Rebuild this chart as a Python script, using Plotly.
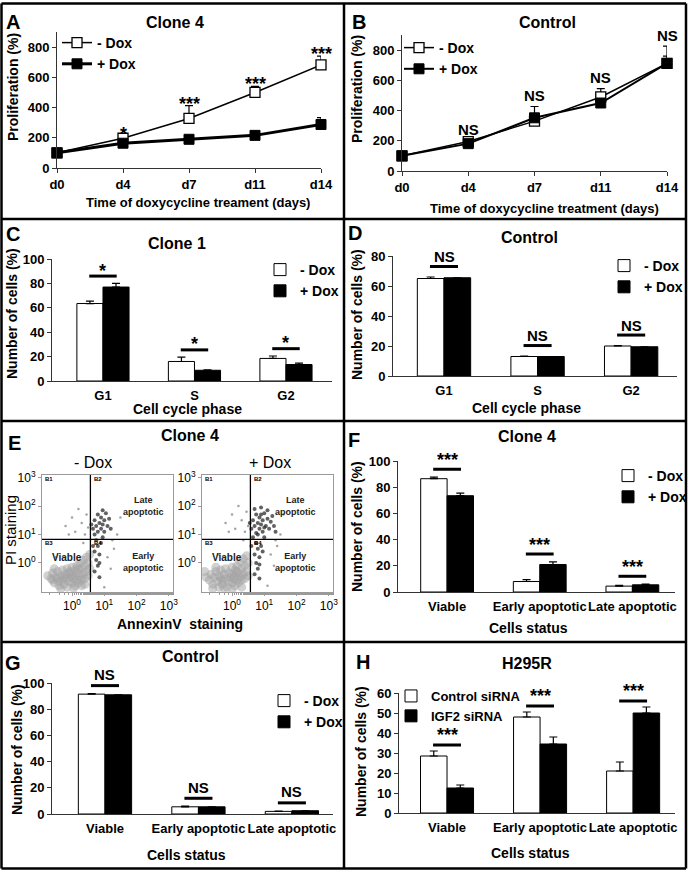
import plotly.graph_objects as go

W, H = 688, 872
FONT = "Liberation Sans, Arial, sans-serif"

# ---------------- data ----------------
days = ["d0", "d4", "d7", "d11", "d14"]
a_minus = [100, 197, 328, 500, 682]
a_minus_err = [0, 12, 85, 40, 59]
a_plus = [100, 164, 190, 216, 288]
a_plus_err = [0, 8, 15, 10, 46]
a_sig = ["", "*", "***", "***", "***"]

b_minus = [100, 195, 330, 490, 712]
b_minus_err = [0, 8, 20, 55, 115]
b_plus = [100, 181, 352, 450, 712]
b_plus_err = [0, 6, 75, 12, 48]
b_sig = ["", "NS", "NS", "NS", "NS"]

phases = ["G1", "S", "G2"]
c_minus = [63.5, 16, 18.5]
c_minus_err = [2, 3.5, 2]
c_plus = [77, 8.8, 13.5]
c_plus_err = [3, 0.4, 1.2]
c_sig = ["*", "*", "*"]

d_minus = [65, 13, 20]
d_minus_err = [1, 0.3, 0.3]
d_plus = [65.5, 13, 19.5]
d_plus_err = [0, 0, 0]
d_sig = ["NS", "NS", "NS"]

status = ["Viable", "Early apoptotic", "Late apoptotic"]
f_minus = [86.5, 8, 4.5]
f_minus_err = [1.2, 1.5, 0.5]
f_plus = [73.5, 21, 5.5]
f_plus_err = [2, 2, 0.5]
f_sig = ["***", "***", "***"]

g_minus = [91.5, 5.5, 2]
g_minus_err = [0.5, 0.5, 0.3]
g_plus = [91, 5.5, 2.5]
g_plus_err = [0, 0, 0]
g_sig = ["NS", "NS", "NS"]

h_ctrl = [28.5, 48, 21]
h_ctrl_err = [2.5, 2.5, 4.5]
h_igf = [12.5, 34.5, 50]
h_igf_err = [1.5, 3.5, 3]
h_sig = ["***", "***", "***"]

# flow cytometry (log10 AnnexinV, log10 PI), estimated from the dot plots
e_neg_viable = [(-0.75, -0.45), (-0.65, -0.55), (-0.6, -0.35), (-0.55, -0.7), (-0.5, -0.5),
                (-0.45, -0.3), (-0.4, -0.65), (-0.4, -0.8), (-0.35, -0.45), (-0.3, -0.25),
                (-0.3, -0.6), (-0.25, -0.75), (-0.2, -0.4), (-0.2, -0.55), (-0.15, -0.2),
                (-0.15, -0.85), (-0.1, -0.65), (-0.1, -0.35), (-0.05, -0.5), (0.0, -0.15),
                (0.0, -0.7), (0.0, -0.4), (0.05, -0.55), (0.1, -0.25), (0.1, -0.8),
                (0.1, -0.45), (0.15, -0.6), (0.15, -0.1), (0.2, -0.35), (0.2, -0.7),
                (0.25, -0.5), (0.25, 0.0), (0.3, -0.2), (0.3, -0.6), (0.35, -0.4),
                (0.35, 0.1), (0.4, -0.1), (0.4, -0.55), (0.45, -0.3), (0.45, 0.2),
                (0.5, 0.0), (0.5, -0.45), (0.55, -0.2), (0.55, 0.3), (-0.55, -0.2),
                (-0.35, -0.9), (0.05, -0.88), (0.3, -0.8), (-0.6, -0.6), (-0.45, -0.55),
                (-0.25, -0.5), (-0.05, -0.3), (0.2, -0.2), (0.4, -0.75)]
e_neg_dark = [(0.65, 1.2), (0.7, 1.5), (0.75, 1.3), (0.8, 1.1), (0.8, 1.7), (0.85, 1.4),
              (0.9, 1.2), (0.9, 1.6), (0.95, 1.35), (1.0, 1.5), (1.0, 1.1), (1.05, 1.75),
              (1.1, 1.3), (1.15, 1.55), (0.7, 1.0), (0.75, 0.8), (0.8, 0.6), (0.7, 0.4),
              (0.85, 0.3), (0.75, 0.1), (0.9, 0.7), (0.8, -0.1), (0.7, -0.3), (0.85, -0.5),
              (0.65, 0.6), (0.95, 0.9), (0.6, 1.35), (1.2, 1.2), (0.95, 1.85), (0.85, 0.0)]
e_neg_sparse = [(-0.2, 1.3), (0.0, 1.6), (0.1, 1.1), (0.3, 1.4), (0.4, 1.0), (0.45, 1.7),
                (0.2, 1.9), (-0.1, 1.0), (0.35, 0.7), (0.5, 1.25), (1.3, 0.5), (1.4, 1.0),
                (1.2, -0.2), (1.1, 0.2), (1.5, 1.6), (1.25, 0.8), (-0.5, 0.2), (1.0, -0.85)]

e_pos_viable = [(-0.8, -0.5), (-0.7, -0.6), (-0.65, -0.4), (-0.6, -0.75), (-0.55, -0.5),
                (-0.5, -0.3), (-0.45, -0.65), (-0.4, -0.85), (-0.4, -0.45), (-0.35, -0.25),
                (-0.3, -0.6), (-0.3, -0.75), (-0.25, -0.4), (-0.2, -0.55), (-0.2, -0.2),
                (-0.15, -0.85), (-0.1, -0.65), (-0.1, -0.35), (-0.05, -0.5), (0.0, -0.15),
                (0.0, -0.7), (0.0, -0.4), (0.05, -0.55), (0.1, -0.25), (0.1, -0.8),
                (0.1, -0.45), (0.15, -0.6), (0.15, -0.1), (0.2, -0.35), (0.2, -0.7),
                (0.25, -0.5), (0.25, 0.05), (0.3, -0.2), (0.3, -0.6), (0.35, -0.4),
                (0.35, 0.15), (0.4, -0.1), (0.4, -0.55), (0.45, -0.3), (0.45, 0.25),
                (0.5, 0.0), (0.5, -0.45), (-0.85, -0.3), (-0.6, -0.9), (0.0, -0.92),
                (0.3, -0.85), (-0.5, -0.15), (-0.25, -0.88), (0.15, -0.3), (-0.35, -0.55)]
e_pos_dark = [(0.6, 1.2), (0.65, 1.5), (0.7, 1.3), (0.75, 1.05), (0.75, 1.7), (0.8, 1.4),
              (0.85, 1.2), (0.85, 1.6), (0.9, 1.35), (0.95, 1.5), (0.95, 1.1), (1.0, 1.75),
              (1.05, 1.3), (1.1, 1.55), (1.15, 1.2), (1.2, 1.45), (1.25, 1.65), (1.3, 1.3),
              (0.7, 1.9), (0.9, 1.95), (1.1, 1.85), (0.65, 0.9), (0.75, 0.7), (0.8, 0.5),
              (0.7, 0.3), (0.85, 0.2), (0.75, 0.0), (0.9, 0.6), (0.8, -0.2), (0.7, -0.4),
              (0.85, -0.55), (0.6, 0.6), (1.0, 0.9), (0.55, 1.4), (1.35, 1.1), (0.95, 0.4),
              (0.85, -0.05), (1.0, 1.25), (0.9, 1.7), (0.8, 1.0)]
e_pos_sparse = [(-0.2, 1.4), (0.0, 1.7), (0.1, 1.2), (0.3, 1.5), (0.4, 1.1), (0.45, 1.8),
                (0.2, 2.0), (-0.1, 1.1), (0.35, 0.8), (0.5, 1.3), (1.4, 0.6), (1.5, 1.0),
                (1.3, -0.1), (1.2, 0.3), (1.6, 1.7), (1.35, 0.8), (-0.4, 0.3), (1.1, -0.8)]
gate_x = 0.57   # log10 AnnexinV gate
gate_y = 0.83   # log10 PI gate

E_XR = [-0.93, 3.13]
E_YR = [-1.02, 3.09]

# ---------------- helpers ----------------
def dx(a, b):
    return [a / W, b / W]


def dy(top, bottom):
    return [1 - bottom / H, 1 - top / H]


def ann(text, x, y, size, bold=True, angle=0, color="black", **kw):
    d = dict(text=f"<b>{text}</b>" if bold else text, x=x / W, y=1 - y / H,
             xref="paper", yref="paper", showarrow=False, textangle=angle,
             font=dict(family=FONT, size=size, color=color),
             xanchor="center", yanchor="middle")
    d.update(kw)
    return d


AX = "#333333"
TICKFONT = dict(family=FONT, size=13, color="black", weight="bold")


def yax(domain, rng, dtick, anchor):
    return dict(domain=domain, range=rng, dtick=dtick, tick0=0, anchor=anchor, automargin=False,
                showline=True, linecolor=AX, linewidth=1, ticks="outside", ticklen=4,
                tickcolor=AX, showgrid=False, zeroline=False, tickfont=TICKFONT)


def xax_bar(domain, rng, labels, anchor):
    return dict(domain=domain, range=rng, anchor=anchor, tickvals=list(range(len(labels))),
                ticktext=labels, showline=True, linecolor=AX, linewidth=1, ticks="outside",
                ticklen=2, tickcolor="rgba(0,0,0,0)", showgrid=False, zeroline=False,
                tickfont=TICKFONT, tickangle=0, automargin=False)


def xax_line(domain, labels, anchor):
    return dict(domain=domain, range=[0, len(labels) - 1], anchor=anchor,
                tickvals=list(range(len(labels))), ticktext=labels, showline=True,
                linecolor=AX, linewidth=1, ticks="outside", ticklen=4, tickcolor=AX,
                showgrid=False, zeroline=False, tickfont=TICKFONT, tickangle=0,
                automargin=False)


def err(arr):
    return dict(type="data", array=arr, arrayminus=[0] * len(arr), symmetric=False,
                color="black", thickness=1.2, width=4)


def legend(x, y, size=14):
    return dict(x=x / W, y=1 - y / H, xanchor="left", yanchor="top",
                bgcolor="rgba(0,0,0,0)", borderwidth=0, tracegroupgap=0,
                traceorder="normal", itemwidth=30,
                font=dict(family=FONT, size=size, color="black", weight="bold"))


fig = go.Figure()
shapes = []
annotations = []

# ---------------- A / B line charts ----------------
xi = list(range(len(days)))
for (mn, mne, pl, ple, sig, xa, ya, lg, wplus, wminus, shift) in [
    (a_minus, a_minus_err, a_plus, a_plus_err, a_sig, "x", "y", "legend", 3, 1.5, 2),
    (b_minus, b_minus_err, b_plus, b_plus_err, b_sig, "x2", "y2", "legend2", 2, 1.5, 11),
]:
    fig.add_trace(go.Scatter(x=xi, y=mn, name="- Dox", mode="lines+markers", xaxis=xa, yaxis=ya,
                             legend=lg, cliponaxis=False, error_y=err(mne),
                             line=dict(color="black", width=wminus),
                             marker=dict(symbol="square", size=10, color="white",
                                         line=dict(color="black", width=1.3))))
    fig.add_trace(go.Scatter(x=xi, y=pl, name="+ Dox", mode="lines+markers", xaxis=xa, yaxis=ya,
                             legend=lg, cliponaxis=False, error_y=err(ple),
                             line=dict(color="black", width=wplus),
                             marker=dict(symbol="square", size=10, color="black",
                                         line=dict(color="black", width=1))))
    for i, s in enumerate(sig):
        if s:
            top = max(mn[i] + mne[i], pl[i] + ple[i])
            size = 18 if "*" in s else 15
            annotations.append(dict(text=f"<b>{s}</b>", x=i, y=top, xref=xa, yref=ya,
                                    showarrow=False, yanchor="middle", yshift=shift,
                                    font=dict(family=FONT, size=size, color="black")))

# ---------------- bar charts ----------------
bar_sets = [
    (c_minus, c_minus_err, c_plus, c_plus_err, c_sig, "x3", "y3", "legend3", "- Dox", "+ Dox", 6, 1.5),
    (d_minus, d_minus_err, d_plus, d_plus_err, d_sig, "x4", "y4", "legend4", "- Dox", "+ Dox", 7, 10),
    (f_minus, f_minus_err, f_plus, f_plus_err, f_sig, "x7", "y7", "legend5", "- Dox", "+ Dox", 6, 5.5),
    (g_minus, g_minus_err, g_plus, g_plus_err, g_sig, "x8", "y8", "legend6", "- Dox", "+ Dox", 6, 11),
    (h_ctrl, h_ctrl_err, h_igf, h_igf_err, h_sig, "x9", "y9", "legend7", "Control siRNA", "IGF2 siRNA", 3, 6.5),
]
for (wv, we, bv, be, sig, xa, ya, lg, n1, n2, off, shift) in bar_sets:
    xs = list(range(len(wv)))
    fig.add_trace(go.Bar(x=xs, y=wv, name=n1, xaxis=xa, yaxis=ya, legend=lg, error_y=err(we),
                         marker=dict(color="white", line=dict(color="black", width=1))))
    fig.add_trace(go.Bar(x=xs, y=bv, name=n2, xaxis=xa, yaxis=ya, legend=lg, error_y=err(be),
                         marker=dict(color="black", line=dict(color="black", width=1))))
    for i, s in enumerate(sig):
        lv = max(wv[i] + we[i], bv[i] + be[i]) + off
        shapes.append(dict(type="line", xref=xa, yref=ya, x0=i - 0.15, x1=i + 0.15, y0=lv, y1=lv,
                           line=dict(color="black", width=3)))
        size = 18 if "*" in s else 15
        annotations.append(dict(text=f"<b>{s}</b>", x=i, y=lv, xref=xa, yref=ya, showarrow=False,
                                yanchor="middle", yshift=shift + (4 if "*" in s else 0),
                                font=dict(family=FONT, size=size, color="black")))

# ---------------- E dot plots ----------------
for (viable, dark, sparse, xa, ya) in [
    (e_neg_viable, e_neg_dark, e_neg_sparse, "x5", "y5"),
    (e_pos_viable, e_pos_dark, e_pos_sparse, "x6", "y6"),
]:
    for pts, col, sz, op in [(sparse, "#8c8c8c", 2.5, 0.8), (viable, "#a3a3a3", 9, 0.5),
                             (dark, "#2e2e2e", 4, 0.75)]:
        fig.add_trace(go.Scatter(x=[10 ** p[0] for p in pts], y=[10 ** p[1] for p in pts],
                                 mode="markers", xaxis=xa, yaxis=ya, showlegend=False,
                                 marker=dict(color=col, size=sz, opacity=op, line=dict(width=0))))
    fig.add_trace(go.Scatter(x=[10 ** gate_x, 10 ** gate_x], y=[10 ** E_YR[0], 10 ** E_YR[1]],
                             mode="lines", xaxis=xa, yaxis=ya, showlegend=False,
                             line=dict(color="black", width=1.3)))
    fig.add_trace(go.Scatter(x=[10 ** E_XR[0], 10 ** E_XR[1]], y=[10 ** gate_y, 10 ** gate_y],
                             mode="lines", xaxis=xa, yaxis=ya, showlegend=False,
                             line=dict(color="black", width=1.3)))

pow_ticks = [1, 10, 100, 1000]
pow_text = [f"10<sup>{k}</sup>" for k in range(4)]
EFONT = dict(family=FONT, size=12, color="black")


def e_x(domain, anchor):
    return dict(domain=domain, type="log", range=E_XR, anchor=anchor, tickvals=pow_ticks,
                ticktext=pow_text, showline=True, mirror=True, linecolor="#9a9a9a", linewidth=1,
                ticks="outside", ticklen=3, tickcolor="#9a9a9a", showgrid=False, zeroline=False,
                tickfont=EFONT, tickangle=0, automargin=False,
                minor=dict(ticks="outside", ticklen=2, tickcolor="#9a9a9a"))


def e_y(domain, anchor):
    return dict(domain=domain, type="log", range=E_YR, anchor=anchor, tickvals=pow_ticks,
                ticktext=pow_text, showline=True, mirror=True, linecolor="#9a9a9a", linewidth=1,
                ticks="outside", ticklen=3, tickcolor="#9a9a9a", showgrid=False, zeroline=False,
                tickfont=EFONT, automargin=False)


# ---------------- frame ----------------
def pl(x0, y0, x1, y1):
    return dict(type="line", xref="paper", yref="paper", x0=x0 / W, x1=x1 / W,
                y0=1 - y0 / H, y1=1 - y1 / H, line=dict(color="black", width=2.5))


shapes += [pl(1.5, 3.5, 686, 3.5), pl(1.5, 868.5, 686, 868.5), pl(1.5, 3.5, 1.5, 868.5),
           pl(686, 3.5, 686, 868.5), pl(344, 3.5, 344, 868.5),
           pl(1.5, 219, 686, 219), pl(1.5, 421, 686, 421), pl(1.5, 642, 686, 642)]

# ---------------- texts ----------------
annotations += [
    ann("A", 13, 22, 20), ann("B", 359, 22, 20), ann("C", 13, 234, 20), ann("D", 355, 233, 20),
    ann("E", 14, 443, 20), ann("F", 354, 440, 20), ann("G", 13, 663, 20), ann("H", 363, 662, 20),
    ann("Clone 4", 175, 22, 16), ann("Control", 547, 22, 16), ann("Clone 1", 177, 243, 16),
    ann("Control", 529, 238, 16), ann("Clone 4", 190, 435, 16), ann("Clone 4", 527, 437, 16),
    ann("Control", 190, 656, 16), ann("H295R", 527, 663, 16),
    ann("Time of doxycycline treament (days)", 198, 203, 13),
    ann("Time of doxycycline treatment (days)", 544, 208, 13),
    ann("Proliferation (%)", 13, 87, 14, angle=-90),
    ann("Proliferation (%)", 357, 89, 14, angle=-90),
    ann("Cell cycle phase", 187, 409, 14), ann("Cell cycle phase", 526, 408, 14),
    ann("Number of cells (%)", 12, 314, 14, angle=-90),
    ann("Number of cells (%)", 357, 315, 14, angle=-90),
    ann("Number of cells (%)", 357, 527, 14, angle=-90),
    ann("Number of cells (%)", 17, 750, 14, angle=-90),
    ann("Number of cells (%)", 361, 752, 14, angle=-90),
    ann("Cells status", 528, 628, 14), ann("Cells status", 186, 855, 14),
    ann("Cells status", 530, 853, 14),
    ann("- Dox", 93, 462, 16, bold=False), ann("+ Dox", 270, 462, 16, bold=False),
    ann("PI staining", 10, 530, 15, bold=False, angle=-90),
    ann("AnnexinV  staining", 180, 624, 14),
]
for ox in (0, 160):
    annotations += [
        ann("B1", 49 + ox, 479, 6), ann("B2", 98 + ox, 479, 6),
        ann("B3", 49 + ox, 543, 6), ann("B4", 98 + ox, 543, 6),
        ann("Late<br>apoptotic", 143 + (ox * 0.95), 506, 9, color="#222"),
        ann("Viable", 67 + ox, 557, 10, color="#222"),
        ann("Early<br>apoptotic", 143 + (ox * 0.95), 562, 9, color="#222"),
    ]

fig.update_layout(
    width=W, height=H, margin=dict(l=0, r=0, t=0, b=0, autoexpand=False),
    paper_bgcolor="white", plot_bgcolor="white",
    barmode="group", bargap=0.43, bargroupgap=0,
    font=dict(family=FONT, color="black"),
    xaxis=xax_line(dx(57, 321), days, "y"), yaxis=yax(dy(32, 168), [0, 900], 200, "x"),
    xaxis2=xax_line(dx(402, 667), days, "y2"), yaxis2=yax(dy(35, 171), [0, 900], 200, "x2"),
    xaxis3=xax_bar(dx(52, 332), [-0.557, 2.503], phases, "y3"),
    yaxis3=yax(dy(259, 381), [0, 100], 20, "x3"),
    xaxis4=xax_bar(dx(393, 677), [-0.545, 2.49], phases, "y4"),
    yaxis4=yax(dy(256, 376), [0, 80], 20, "x4"),
    xaxis5=e_x(dx(42, 173), "y5"), yaxis5=e_y(dy(475, 592), "x5"),
    xaxis6=e_x(dx(202, 333), "y6"), yaxis6=e_y(dy(475, 592), "x6"),
    xaxis7=xax_bar(dx(398, 675), [-0.53, 2.46], status, "y7"),
    yaxis7=yax(dy(461, 592), [0, 100], 20, "x7"),
    xaxis8=xax_bar(dx(52, 333), [-0.567, 2.44], status, "y8"),
    yaxis8=yax(dy(683, 814), [0, 100], 20, "x8"),
    xaxis9=xax_bar(dx(399, 675), [-0.516, 2.45], status, "y9"),
    yaxis9=yax(dy(693, 813), [0, 60], 10, "x9"),
    legend=legend(57, 27), legend2=legend(399, 32),
    legend3=legend(260, 254), legend4=legend(604, 250),
    legend5=legend(608, 460), legend6=legend(264, 685),
    legend7=legend(391, 681, 13),
    shapes=shapes, annotations=annotations,
)

fig.write_html("out.html", config={"displayModeBar": False},
               post_script="document.body.style.margin='0';document.body.style.overflow='hidden';")
